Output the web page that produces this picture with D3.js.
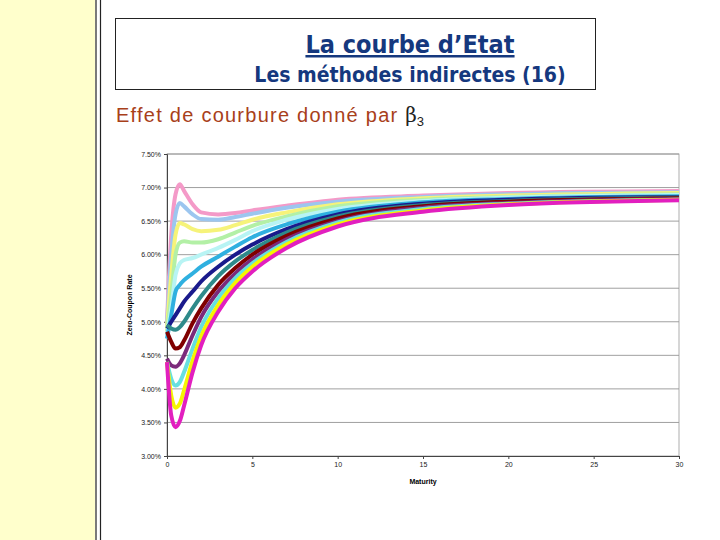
<!DOCTYPE html>
<html><head><meta charset="utf-8">
<script src="https://cdn.jsdelivr.net/npm/d3@7"></script>
<style>body{margin:0;background:#fff}</style>
</head><body>
<script>
const maturities = [0, 0.25, 0.5, 0.75, 1, 1.5, 2, 3, 4, 5, 7, 10, 15, 20, 30];
const yTicks = [3.0, 3.5, 4.0, 4.5, 5.0, 5.5, 6.0, 6.5, 7.0, 7.5];
const xTicks = [0, 5, 10, 15, 20, 25, 30];
const seriesColors = ["#f49ac8", "#9cc6ef", "#f6f37a", "#b3f0a6", "#b8f4f4", "#2fb0e0", "#1a1a8c",
	"#2e8a8a", "#800000", "#7b2a7b", "#66e0e0", "#f5f500", "#e21fbf"];
const s1 = [5.0, 6.3, 6.9, 7.05, 6.95, 6.75, 6.63, 6.6, 6.62, 6.66, 6.73, 6.82, 6.88, 6.92, 6.95];
const s2 = [4.95, 6.0, 6.6, 6.77, 6.72, 6.6, 6.53, 6.52, 6.56, 6.61, 6.7, 6.79, 6.86, 6.9, 6.93];
const s3 = [4.9, 5.7, 6.3, 6.47, 6.45, 6.38, 6.35, 6.37, 6.44, 6.52, 6.63, 6.75, 6.84, 6.88, 6.92];
const s4 = [4.85, 5.4, 6.0, 6.18, 6.2, 6.18, 6.18, 6.23, 6.33, 6.43, 6.57, 6.72, 6.82, 6.86, 6.9];
const s5 = [4.8, 5.2, 5.7, 5.87, 5.92, 5.95, 6.0, 6.1, 6.22, 6.35, 6.52, 6.68, 6.8, 6.85, 6.89];
const s6 = [4.75, 5.1, 5.45, 5.55, 5.62, 5.72, 5.82, 5.97, 6.12, 6.26, 6.45, 6.64, 6.78, 6.83, 6.87];
const s7 = [4.9, 5.0, 5.1, 5.2, 5.3, 5.45, 5.6, 5.82, 6.0, 6.15, 6.38, 6.6, 6.76, 6.82, 6.86];
const s8 = [4.95, 4.9, 4.88, 4.92, 5.0, 5.2, 5.38, 5.68, 5.9, 6.07, 6.33, 6.57, 6.74, 6.8, 6.85];
const s9 = [4.85, 4.7, 4.6, 4.62, 4.72, 4.98, 5.2, 5.55, 5.8, 6.0, 6.28, 6.54, 6.72, 6.79, 6.84];
const s10 = [4.45, 4.35, 4.33, 4.38, 4.5, 4.8, 5.07, 5.45, 5.72, 5.93, 6.23, 6.5, 6.7, 6.77, 6.83];
const s11 = [4.4, 4.15, 4.05, 4.1, 4.25, 4.6, 4.92, 5.35, 5.65, 5.87, 6.19, 6.48, 6.68, 6.76, 6.82];
const s12 = [4.4, 3.9, 3.72, 3.78, 3.98, 4.42, 4.78, 5.25, 5.58, 5.82, 6.15, 6.45, 6.66, 6.75, 6.82];
const s13 = [4.4, 3.6, 3.43, 3.52, 3.75, 4.25, 4.65, 5.15, 5.5, 5.75, 6.1, 6.42, 6.64, 6.74, 6.81];
const series = [s1, s2, s3, s4, s5, s6, s7, s8, s9, s10, s11, s12, s13];

const W = 720, H = 540;
const svg = d3.select("body").append("svg").attr("width", W).attr("height", H);

// slide decoration
svg.append("rect").attr("x", 0).attr("y", 0).attr("width", 95).attr("height", H).attr("fill", "#ffffcc");
svg.append("line").attr("x1", 96).attr("x2", 96).attr("y1", 0).attr("y2", H).attr("stroke", "#222").attr("stroke-width", 1.2);
svg.append("line").attr("x1", 100.5).attr("x2", 100.5).attr("y1", 0).attr("y2", H).attr("stroke", "#222").attr("stroke-width", 1.2);

svg.append("rect").attr("x", 115.5).attr("y", 18.5).attr("width", 480).attr("height", 71)
	.attr("fill", "none").attr("stroke", "#222").attr("stroke-width", 1);
svg.append("text").attr("x", 410).attr("y", 53).attr("text-anchor", "middle")
	.attr("font-family", "'DejaVu Sans Condensed', 'DejaVu Sans', sans-serif").attr("font-stretch", "condensed")
	.attr("font-size", 25).attr("font-weight", "bold")
	.attr("fill", "#15387e").attr("text-decoration", "underline").text("La courbe d’Etat");
svg.append("text").attr("x", 410).attr("y", 82).attr("text-anchor", "middle")
	.attr("font-family", "'DejaVu Sans Condensed', 'DejaVu Sans', sans-serif").attr("font-stretch", "condensed")
	.attr("font-size", 21).attr("font-weight", "bold")
	.attr("fill", "#15387e").text("Les méthodes indirectes (16)");
const sub = svg.append("text").attr("x", 116).attr("y", 122)
	.attr("font-family", "'Liberation Sans', Arial, sans-serif").attr("font-size", 20).attr("fill", "#a8401a");
sub.append("tspan").attr("textLength", 288).text("Effet de courbure donné par ");
sub.append("tspan").attr("fill", "#222").attr("font-family", "'DejaVu Serif', serif").text("β");
sub.append("tspan").attr("fill", "#222").attr("font-size", 13).attr("dy", 4).text("3");

// chart
const x = d3.scaleLinear().domain([0, 30]).range([167, 679]);
const y = d3.scaleLinear().domain([3, 7.5]).range([456, 154]);

svg.append("g").selectAll("line").data(yTicks.slice(1)).join("line")
	.attr("x1", 167).attr("x2", 679).attr("y1", d => y(d)).attr("y2", d => y(d))
	.attr("stroke", "#888").attr("stroke-width", 0.8);
svg.append("rect").attr("x", 167).attr("y", 154).attr("width", 512).attr("height", 302)
	.attr("fill", "none").attr("stroke", "#999").attr("stroke-width", 0.8);

const yAxis = svg.append("g").attr("transform", "translate(167,0)")
	.call(d3.axisLeft(y).tickValues(yTicks).tickFormat(d => d.toFixed(2) + "%").tickSize(3));
const xAxis = svg.append("g").attr("transform", "translate(0,456)")
	.call(d3.axisBottom(x).tickValues(xTicks).tickFormat(d3.format("d")).tickSize(3));
[yAxis, xAxis].forEach(g => {
	g.selectAll("text").attr("font-family", "'Liberation Sans', Arial, sans-serif").attr("font-size", 7).attr("fill", "#222");
	g.selectAll("line, .domain").attr("stroke", "#444");
});

svg.append("text").attr("transform", "translate(132,305) rotate(-90)").attr("text-anchor", "middle")
	.attr("font-family", "'Liberation Sans', Arial, sans-serif").attr("font-size", 7).attr("font-weight", "bold")
	.text("Zero-Coupon Rate");
svg.append("text").attr("x", 423).attr("y", 484).attr("text-anchor", "middle")
	.attr("font-family", "'Liberation Sans', Arial, sans-serif").attr("font-size", 7).attr("font-weight", "bold")
	.text("Maturity");

const line = d3.line().x((d, i) => x(maturities[i])).y(d => y(d)).curve(d3.curveMonotoneX);
svg.append("g").selectAll("path").data(series).join("path")
	.attr("d", line).attr("fill", "none")
	.attr("stroke", (d, i) => seriesColors[i]).attr("stroke-width", 4).attr("stroke-linejoin", "round");
</script>
</body></html>
